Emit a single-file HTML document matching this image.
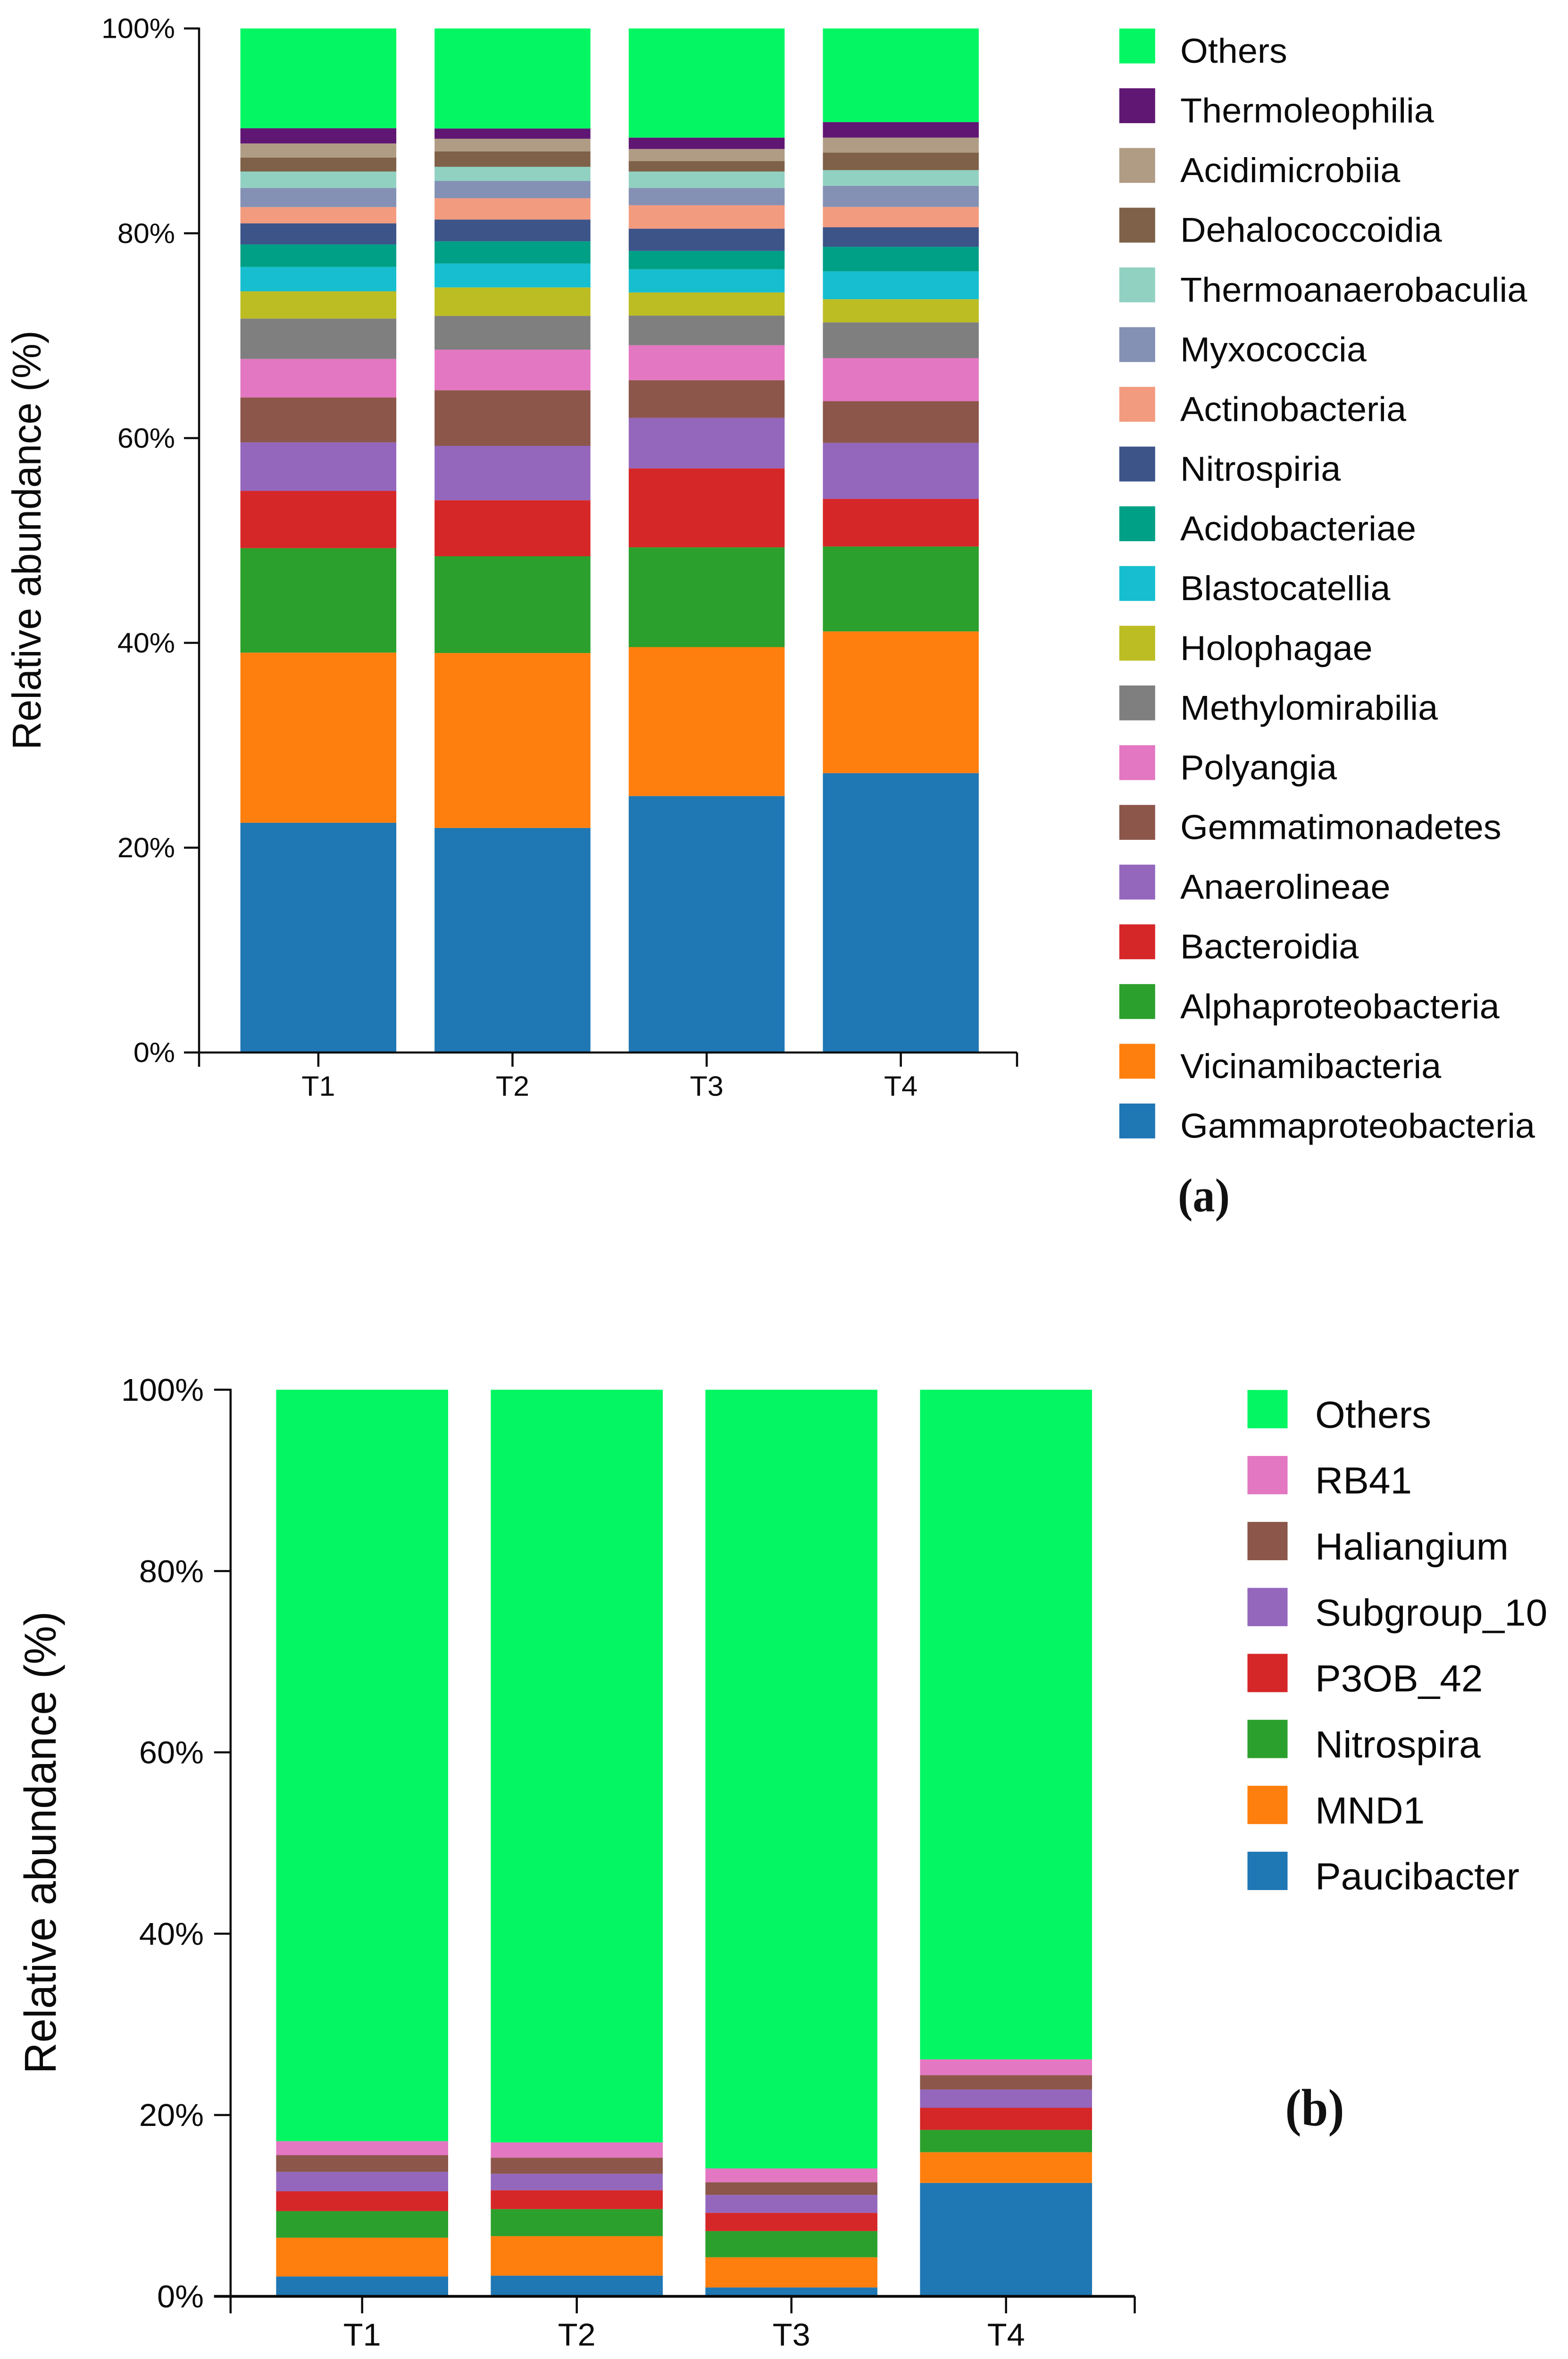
<!DOCTYPE html>
<html lang="en">
<head>
<meta charset="utf-8">
<title>Relative abundance stacked bars</title>
<style>
html,body{margin:0;padding:0;background:#fff;width:100%;height:100%;overflow:hidden}
svg{display:block;position:fixed;left:0;top:0;width:100vw;height:100vh}
text{font-family:"Liberation Sans",Arial,sans-serif;fill:#0a0a0a}
.panel{font-family:"Liberation Serif","Times New Roman",serif;font-weight:700;fill:#111}
</style>
</head>
<body>
<svg id="figure" xmlns="http://www.w3.org/2000/svg" viewBox="0 0 3324 5139" preserveAspectRatio="none">
  <rect x="0" y="0" width="3324" height="5139" fill="#ffffff"/>
  <g id="chart-a"></g>
  <g id="chart-b"></g>
  <text class="panel" x="2552" y="2639" font-size="104" text-anchor="middle" textLength="110" lengthAdjust="spacingAndGlyphs">(a)</text>
  <text class="panel" x="2787" y="4630" font-size="114" text-anchor="middle" textLength="125" lengthAdjust="spacingAndGlyphs">(b)</text>
</svg>
<script>
// Shared axis data
const categories = ["T1", "T2", "T3", "T4"];
const yTickValues = [0, 20, 40, 60, 80, 100];
const yTickLabels = ["0%", "20%", "40%", "60%", "80%", "100%"];
const yAxisTitle = "Relative abundance (%)";

// Panel (a): class level, stacked bottom to top
const classNames = ["Gammaproteobacteria", "Vicinamibacteria", "Alphaproteobacteria", "Bacteroidia", "Anaerolineae", "Gemmatimonadetes", "Polyangia", "Methylomirabilia", "Holophagae", "Blastocatellia", "Acidobacteriae", "Nitrospiria", "Actinobacteria", "Myxococcia", "Thermoanaerobaculia", "Dehalococcoidia", "Acidimicrobiia", "Thermoleophilia", "Others"];
const classT1 = [22.43, 16.62, 10.20, 5.59, 4.74, 4.38, 3.77, 3.94, 2.66, 2.38, 2.20, 2.06, 1.59, 1.87, 1.60, 1.37, 1.37, 1.49, 9.74];
const classT2 = [21.93, 17.08, 9.45, 5.47, 5.31, 5.43, 3.97, 3.29, 2.78, 2.34, 2.17, 2.12, 2.08, 1.69, 1.38, 1.51, 1.23, 1.00, 9.77];
const classT3 = [25.04, 14.55, 9.74, 7.71, 4.94, 3.67, 3.42, 2.89, 2.26, 2.26, 1.80, 2.17, 2.29, 1.69, 1.60, 1.02, 1.18, 1.11, 10.66];
const classT4 = [27.28, 13.84, 8.29, 4.65, 5.47, 4.08, 4.20, 3.49, 2.26, 2.72, 2.40, 1.91, 1.98, 2.06, 1.54, 1.71, 1.46, 1.52, 9.14];
const classColors = ["#1F77B4", "#FF7F0E", "#2CA02C", "#D62728", "#9467BD", "#8C564B", "#E377C2", "#7F7F7F", "#BCBD22", "#17BECF", "#00A087", "#3C5488", "#F39B7F", "#8491B4", "#91D1C2", "#7E6148", "#B09C85", "#601773", "#04F763"];

// Panel (b): genus level, stacked bottom to top
const genusNames = ["Paucibacter", "MND1", "Nitrospira", "P3OB_42", "Subgroup_10", "Haliangium", "RB41", "Others"];
const genusT1 = [2.19, 4.28, 2.93, 2.19, 2.14, 1.84, 1.55, 82.88];
const genusT2 = [2.28, 4.36, 2.98, 2.08, 1.82, 1.78, 1.68, 83.02];
const genusT3 = [0.98, 3.33, 2.89, 2.01, 1.98, 1.40, 1.52, 85.89];
const genusT4 = [12.51, 3.39, 2.46, 2.44, 2.01, 1.59, 1.74, 73.86];
const genusColors = ["#1F77B4", "#FF7F0E", "#2CA02C", "#D62728", "#9467BD", "#8C564B", "#E377C2", "#04F763"];

const SVG_NS = "http://www.w3.org/2000/svg";

function make(parent, tag, attrs, txt) {
  const el = document.createElementNS(SVG_NS, tag);
  for (const k in attrs) el.setAttribute(k, attrs[k]);
  if (txt !== undefined) el.textContent = txt;
  parent.appendChild(el);
  return el;
}

function slug(s) {
  return s.toLowerCase().replace(/[^a-z0-9]+/g, "-");
}

function drawChart(root, names, samples, colors, g) {
  const y = v => g.y0 - v * (g.y0 - g.y100) / 100;
  const xLeft = i => g.barStart + i * g.pitch;
  const xTick = i => xLeft(i) + g.barW / 2;

  // Stacked bars
  samples.forEach((vals, i) => {
    const bar = make(root, "g", {});
    
    
    let acc = 0;
    vals.forEach((v, s) => {
      const r = make(bar, "rect", {
        x: xLeft(i), y: y(acc + v), width: g.barW, height: y(acc) - y(acc + v), fill: colors[s]
      });
      
      
      acc += v;
    });
  });

  // Y axis line, its foot extends below the x axis
  const yAxis = make(root, "line", {
    x1: g.axisX, x2: g.axisX, y1: g.y100 - 2, y2: g.y0 + g.tickY, stroke: "#0a0a0a", "stroke-width": g.axisW
  });
  
  

  // X axis line
  const xAxis = make(root, "line", {
    x1: g.axisX - g.tickX, x2: g.axisEnd, y1: g.y0, y2: g.y0, stroke: "#0a0a0a", "stroke-width": g.xAxisW
  });
  
  

  const xEnd = make(root, "line", {
    x1: g.axisEnd, x2: g.axisEnd, y1: g.y0, y2: g.y0 + g.tickY, stroke: "#0a0a0a", "stroke-width": g.axisW
  });
  
  

  // Y ticks
  yTickValues.forEach((v, i) => {
    const t = make(root, "line", {
      x1: g.axisX - g.tickX, x2: g.axisX, y1: y(v), y2: y(v), stroke: "#0a0a0a", "stroke-width": g.axisW
    });
    
    
    const l = make(root, "text", {
      x: g.yLabelX, y: y(v) + g.yLabelDy, "font-size": g.tickFont, "text-anchor": "end"
    }, yTickLabels[i]);
    
    
  });

  // X ticks
  categories.forEach((c, i) => {
    const t = make(root, "line", {
      x1: xTick(i), x2: xTick(i), y1: g.y0, y2: g.y0 + g.tickY, stroke: "#0a0a0a", "stroke-width": g.axisW
    });
    
    
    const l = make(root, "text", {
      x: xTick(i) + g.xLabelDx, y: g.xLabelY, "font-size": g.tickFont, "text-anchor": "middle"
    }, c);
    
    
  });

  // Y axis title
  const title = make(root, "text", {
    transform: "translate(" + g.titleX + "," + g.titleY + ") rotate(-90)",
    "font-size": g.titleFont, "text-anchor": "middle"
  }, yAxisTitle);
  
  

  // Legend, top entry is the last series
  const legend = make(root, "g", {});
  
  
  names.slice().reverse().forEach((n, i) => {
    const top = g.legTop + i * g.legPitch;
    const entry = make(legend, "g", {});
    
    
    const sw = make(entry, "rect", {
      x: g.legX, y: top, width: g.legW, height: g.legH, fill: colors[names.length - 1 - i]
    });
    
    
    const tx = make(entry, "text", {
      x: g.legTextX, y: top + g.legH - 1.5, "font-size": g.legFont
    }, n);
    
    
  });
}

drawChart(document.getElementById("chart-a"), classNames, [classT1, classT2, classT3, classT4], classColors, {
  y0: 2292.8, y100: 62, barStart: 509.6, barW: 330.5, pitch: 411.6,
  axisX: 422, axisEnd: 2156, axisW: 4.5, xAxisW: 4.5, tickX: 32, tickY: 31,
  yLabelX: 371, yLabelDy: 21, tickFont: 61, xLabelDx: 0, xLabelY: 2387,
  titleX: 86, titleY: 1176.7, titleFont: 85.6,
  legX: 2372.8, legTop: 62.2, legPitch: 130.1, legW: 76, legH: 76,
  legTextX: 2502, legFont: 75.6
});

drawChart(document.getElementById("chart-b"), genusNames, [genusT1, genusT2, genusT3, genusT4], genusColors, {
  y0: 5002.5, y100: 3027.5, barStart: 585.4, barW: 364.6, pitch: 455,
  axisX: 488.8, axisEnd: 2405.5, axisW: 4.5, xAxisW: 6, tickX: 35, tickY: 37,
  yLabelX: 432, yLabelDy: 24, tickFont: 68.5, xLabelDx: 0, xLabelY: 5109.5,
  titleX: 118, titleY: 4014, titleFont: 94.4,
  legX: 2644.5, legTop: 3028, legPitch: 143.7, legW: 85, legH: 83.5,
  legTextX: 2788, legFont: 82
});
</script>
</body>
</html>
